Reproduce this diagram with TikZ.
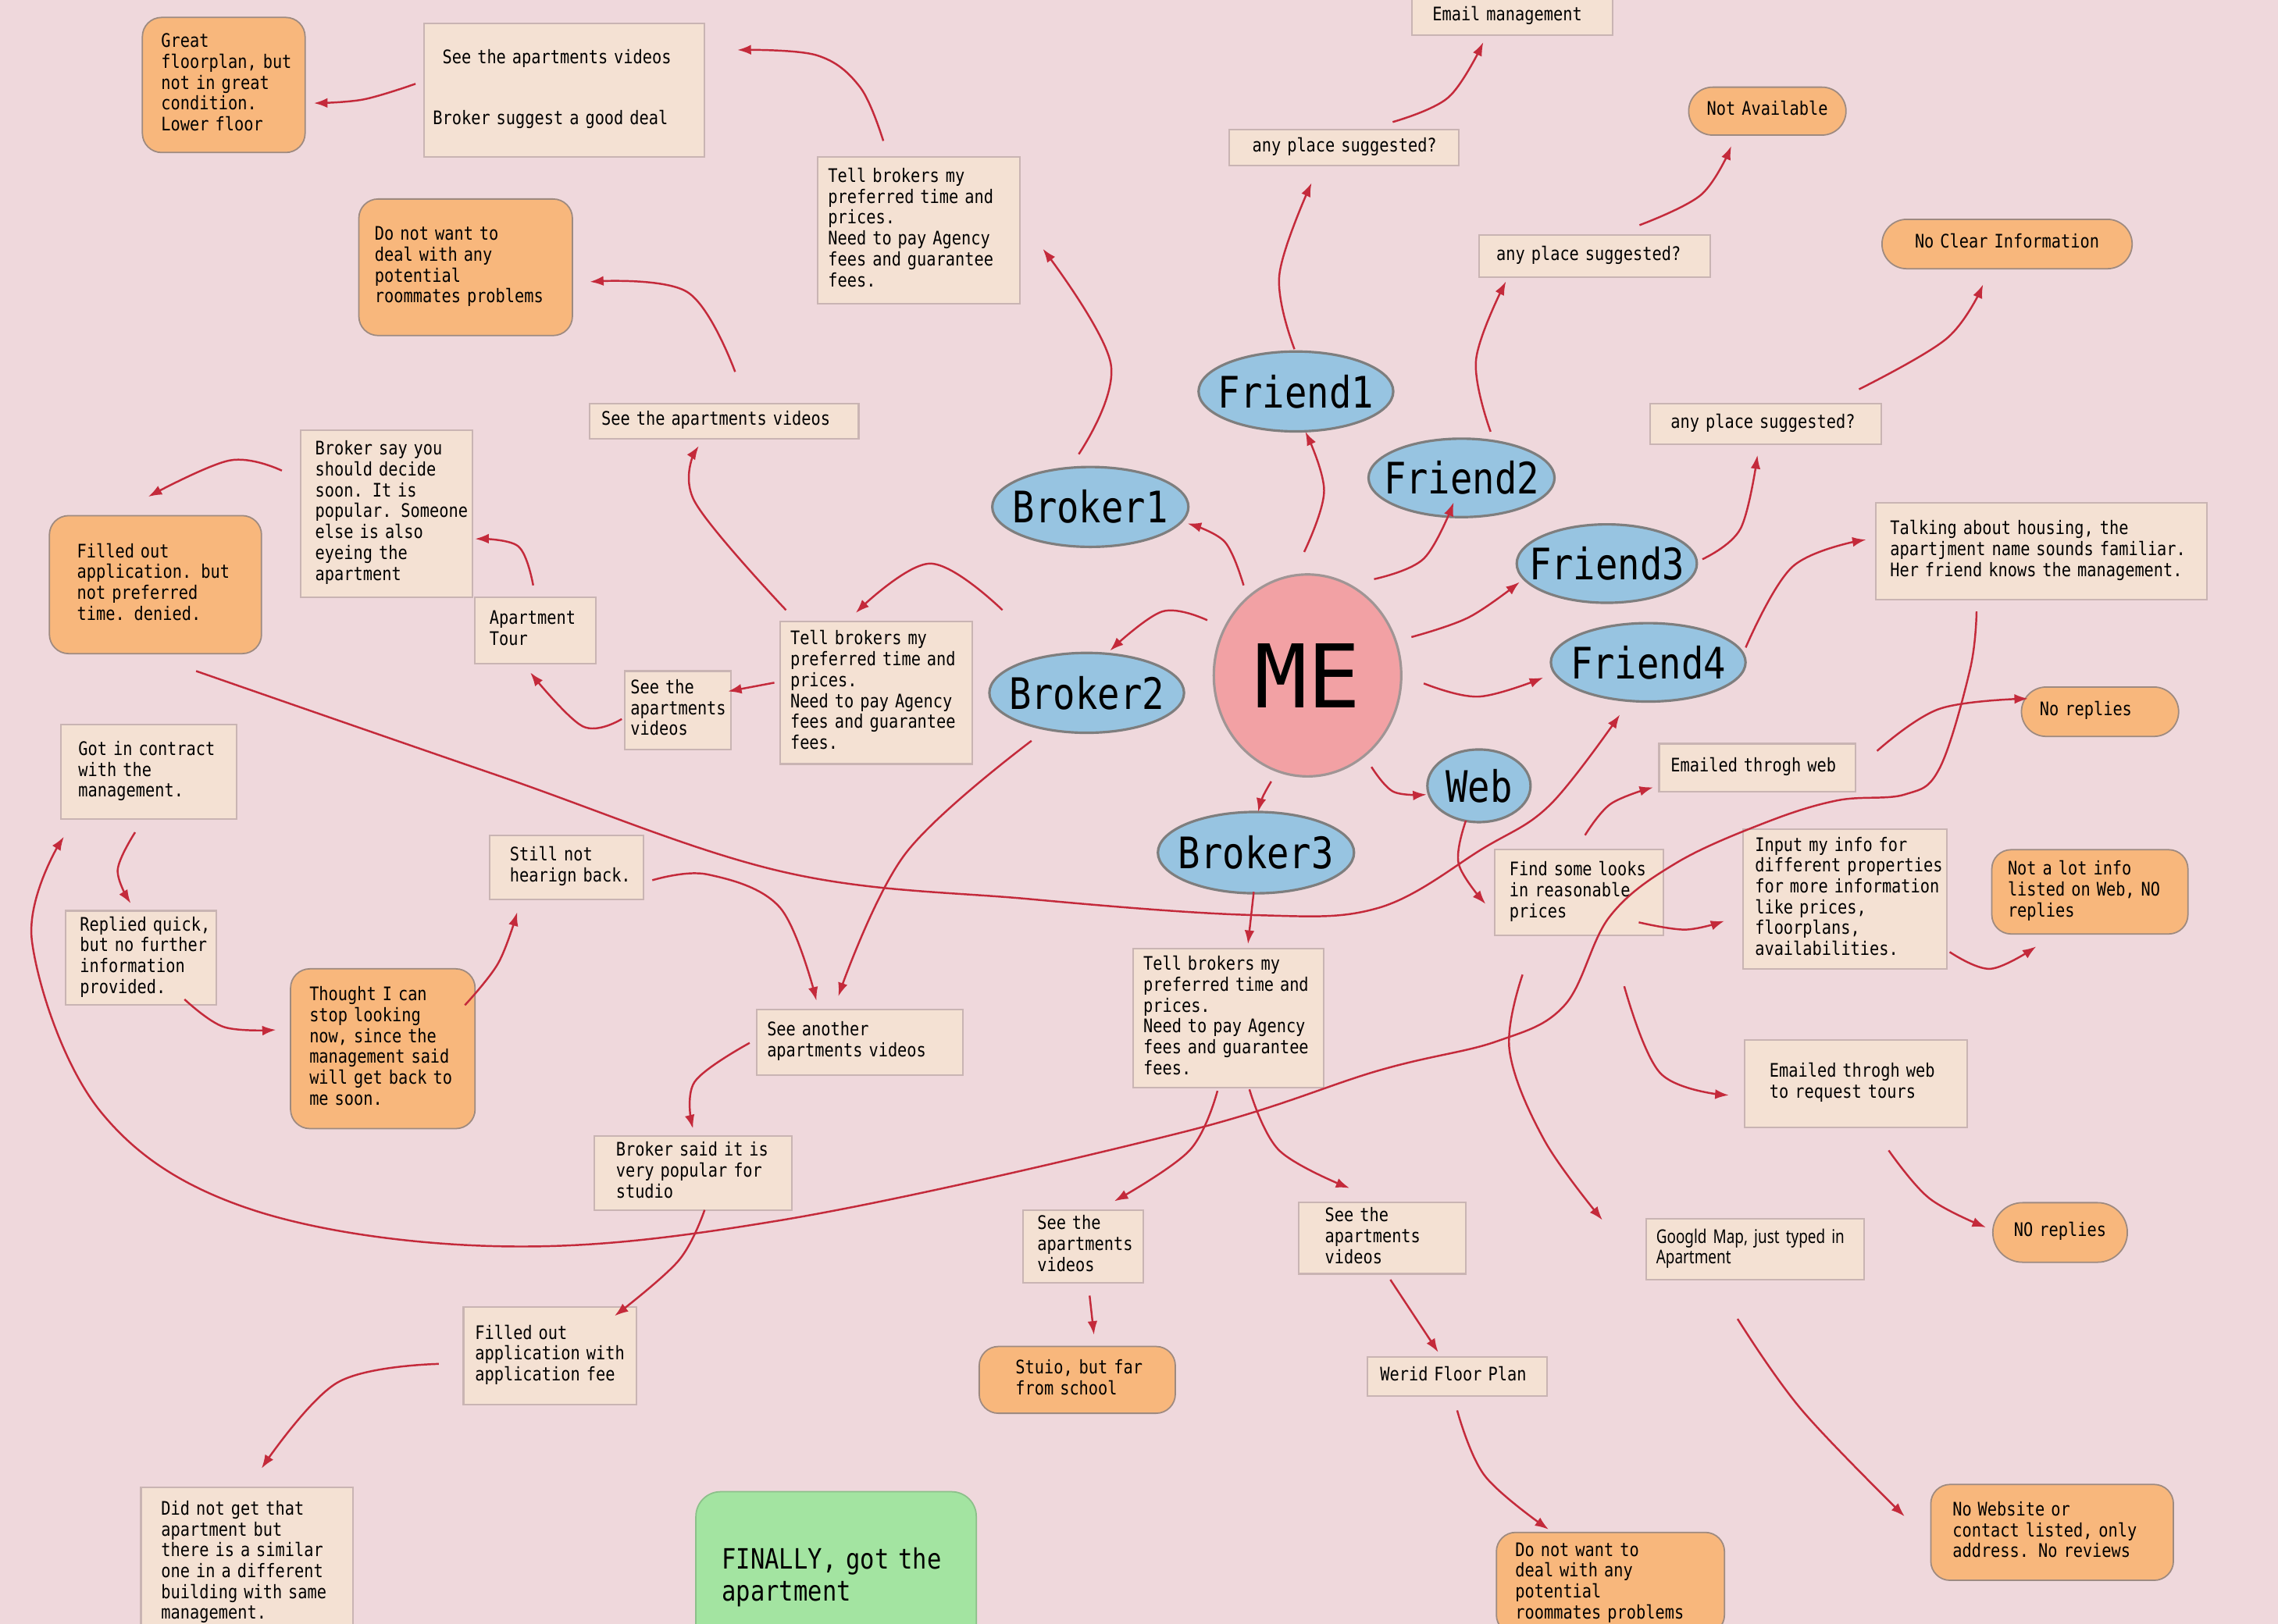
\documentclass[tikz,border=0pt]{standalone}
\usepackage{fontspec}
\newfontfamily\monoc{DejaVu Sans Mono}[FakeStretch=0.85]
\newfontfamily\monon{DejaVu Sans Mono}
\newfontfamily\sansc{Noto Sans}[FakeStretch=0.78]
\usetikzlibrary{arrows.meta,shapes.geometric,shapes.misc}
\definecolor{bgc}{HTML}{EFD8DC}
\definecolor{boxfill}{HTML}{F4E1D3}
\definecolor{boxline}{HTML}{C9B4B3}
\definecolor{orfill}{HTML}{F8B77C}
\definecolor{orline}{HTML}{9E8A80}
\definecolor{bluefill}{HTML}{97C4E1}
\definecolor{ellline}{HTML}{7E7E7E}
\definecolor{mefill}{HTML}{F2A1A4}
\definecolor{meline}{HTML}{A09595}
\definecolor{grfill}{HTML}{A3E4A1}
\definecolor{grline}{HTML}{8CC08A}
\definecolor{arrred}{HTML}{C42A3B}
\newcommand\lns[1]{\begin{tabular}{@{}l@{}}#1\end{tabular}}
\newcommand\bnode[8]{%
 \pgfmathsetlengthmacro\qbw{(#5-#3)*0.0186cm}%
 \pgfmathsetlengthmacro\qbh{(#6-#4)*0.0186cm}%
 \pgfmathsetlengthmacro\qbp{#7*0.0186cm}%
 \pgfmathsetlengthmacro\qbt{(#5-#3-2*#7)*0.0186cm}%
 \node[#2, minimum width=\qbw, minimum height=\qbh, inner xsep=\qbp, text width=\qbt] (#1) at ({(#3+#5)/2},{(#4+#6)/2}) {\lns{#8}};}
\newcommand\enode[7]{%
 \pgfmathsetlengthmacro\qbw{2*#4*0.0186cm}%
 \pgfmathsetlengthmacro\qbh{2*#5*0.0186cm}%
 \node[#7, minimum width=\qbw, minimum height=\qbh] (#1) at (#2,#3) {\makebox[0pt]{#6}};}
\newcommand\cnx[4]{%
 \coordinate (#1s) at (#2);
 \coordinate (#1e) at (#4);
 \draw[arr] plot[smooth,tension=0.6] coordinates {(#1s) #3 (#1e)};}
\tikzset{
 basetxt/.style={font=\monoc\fontsize{6.8}{7.6}\selectfont, inner ysep=0pt, align=left},
 bx/.style={basetxt, rectangle, draw=boxline, fill=boxfill, line width=0.6pt},
 gbx/.style={bx, font=\sansc\fontsize{6.9}{7.4}\selectfont},
 ob/.style={basetxt, rectangle, rounded corners=7pt, draw=orline, fill=orfill, line width=0.5pt},
 pill/.style={basetxt, rounded rectangle, draw=orline, fill=orfill, line width=0.5pt, align=center},
 pillL/.style={pill, align=left},
 gb/.style={basetxt, rectangle, rounded corners=9pt, draw=grline, fill=grfill, line width=0.5pt, font=\monoc\fontsize{10.2}{11.6}\selectfont},
 ell/.style={ellipse, inner sep=0pt, draw=ellline, fill=bluefill, line width=0.9pt, font=\monoc\fontsize{15.8}{18}\selectfont},
 meell/.style={ellipse, inner sep=0pt, draw=meline, fill=mefill, line width=0.9pt, font=\monon\fontsize{32}{36}\selectfont},
 arr/.style={draw=arrred, line width=0.7pt, -{Latex[length=5pt,width=3.6pt]}}
}
\begin{document}
\begin{tikzpicture}[x=0.0186cm,y=-0.0186cm]
\useasboundingbox (0,0) rectangle (1568,1118);
\clip (0,0) rectangle (1568,1118);
\fill[bgc] (0,0) rectangle (1568,1118);

% ---------- boxes ----------
\bnode{great}{ob}{98}{12}{210}{105}{13}{Great\\floorplan, but\\not in great\\condition.\\Lower floor}
\bnode{seebk}{bx}{292}{16}{485}{108}{6}{\hphantom{x}See the apartments videos\\[14.6pt]Broker suggest a good deal}
\bnode{tella}{bx}{563}{108}{702}{209}{7}{Tell brokers my\\preferred time and\\prices.\\Need to pay Agency\\fees and guarantee\\fees.}
\bnode{email}{bx}{972}{-1}{1110}{24}{14}{Email management}
\bnode{anya}{bx}{846}{89}{1004}{114}{16}{any place suggested?}
\bnode{notav}{pill}{1164}{60}{1269}{93}{6}{Not Available}
\bnode{anyb}{bx}{1018}{162}{1177}{191}{12}{any place suggested?}
\bnode{noclear}{pill}{1297}{151}{1466}{185}{8}{No Clear Information}
\bnode{dnwa}{ob}{247}{137}{394}{231}{11}{Do not want to\\deal with any\\potential\\roommates problems}
\bnode{seeva}{bx}{406}{278}{591}{302}{8}{See the apartments videos}
\bnode{anyc}{bx}{1136}{278}{1295}{306}{14}{any place suggested?}
\bnode{talk}{bx}{1291}{346}{1519}{413}{10}{Talking about housing, the\\apartjment name sounds familiar.\\Her friend knows the management.}
\bnode{bsay}{bx}{207}{296}{325}{411}{10}{Broker say you\\should decide\\soon. It is\\popular. Someone\\else is also\\eyeing the\\apartment}
\bnode{filleda}{ob}{34}{355}{180}{450}{19}{Filled out\\application. but\\not preferred\\time. denied.}
\bnode{tour}{bx}{327}{411}{410}{457}{10}{Apartment\\Tour}
\bnode{tellb}{bx}{537}{428}{669}{526}{7}{Tell brokers my\\preferred time and\\prices.\\Need to pay Agency\\fees and guarantee\\fees.}
\bnode{seevb}{bx}{430}{462}{503}{516}{4}{See the\\apartments\\videos}
\bnode{norepa}{pillL}{1393}{473}{1498}{507}{11}{No replies}
\bnode{emaila}{bx}{1142}{512}{1277}{545}{8}{Emailed throgh web}
\bnode{gotin}{bx}{42}{499}{163}{564}{12}{Got in contract\\with the\\management.}
\bnode{still}{bx}{337}{575}{443}{619}{14}{Still not\\hearign back.}
\bnode{find}{bx}{1029}{585}{1145}{644}{10}{Find some looks\\in reasonable\\prices}
\bnode{input}{bx}{1200}{571}{1340}{667}{8}{Input my info for\\different properties\\for more information\\like prices,\\floorplans,\\availabilities.}
\bnode{notlot}{ob}{1371}{585}{1506}{643}{11}{Not a lot info\\listed on Web, NO\\replies}
\bnode{replied}{bx}{45}{627}{149}{692}{10}{Replied quick,\\but no further\\information\\provided.}
\bnode{thought}{ob}{200}{667}{327}{777}{13}{Thought I can\\stop looking\\now, since the\\management said\\will get back to\\me soon.}
\bnode{seeano}{bx}{521}{695}{663}{740}{7}{See another\\apartments videos}
\bnode{tellc}{bx}{780}{653}{911}{749}{7}{Tell brokers my\\preferred time and\\prices.\\Need to pay Agency\\fees and guarantee\\fees.}
\bnode{tours}{bx}{1201}{716}{1354}{776}{17}{Emailed throgh web\\to request tours}
\bnode{bsaid}{bx}{409}{782}{545}{833}{15}{Broker said it is\\very popular for\\studio}
\bnode{seevc}{bx}{704}{833}{787}{883}{10}{See the\\apartments\\videos}
\bnode{seevd}{bx}{894}{828}{1009}{877}{18}{See the\\apartments\\videos}
\bnode{norepb}{pill}{1373}{828}{1463}{869}{6}{NO replies}
\bnode{gmap}{gbx}{1133}{839}{1283}{881}{7}{Googld Map, just typed in\\Apartment}
\bnode{filledb}{bx}{319}{900}{438}{967}{8}{Filled out\\application with\\application fee}
\bnode{stuio}{ob}{674}{927}{809}{973}{25}{Stuio, but far\\from school}
\bnode{werid}{bx}{941}{934}{1065}{961}{9}{Werid Floor Plan}
\bnode{dnwb}{ob}{1030}{1055}{1187}{1125}{13}{Do not want to\\deal with any\\potential\\roommates problems}
\bnode{nows}{ob}{1329}{1022}{1496}{1088}{15}{No Website or\\contact listed, only\\address. No reviews}
\bnode{didnot}{bx}{97}{1024}{243}{1128}{14}{Did not get that\\apartment but\\there is a similar\\one in a different\\building with same\\management.}
\bnode{final}{gb}{479}{1027}{672}{1147}{18}{FINALLY, got the\\apartment}

% ---------- ellipses ----------
\enode{fa}{892}{269.5}{67}{27.5}{Friend1}{ell}
\enode{fb}{1006}{329}{64}{27}{Friend2}{ell}
\enode{ba}{750.5}{349}{67.5}{27.5}{Broker1}{ell}
\enode{fc}{1106}{388}{62}{27}{Friend3}{ell}
\enode{bb}{748}{477}{67}{27.5}{Broker2}{ell}
\enode{fd}{1134.5}{456}{67}{27}{Friend4}{ell}
\enode{web}{1018}{541}{35.5}{25}{Web}{ell}
\enode{bc}{864.5}{587}{67.5}{28}{Broker3}{ell}
\enode{me}{900}{465}{64.5}{69.5}{ME}{meell}

% ---------- connectors ----------
\cnx{a1}{286,57.7}{(250,68.5)}{216,71}
\cnx{a2}{608,97}{(592,60) (562,38)}{507.5,34.4}
\cnx{a3}{742.5,312.7}{(764.6,250.6)}{717.8,171.3}
\cnx{a4}{856,403}{(843,373)}{817.4,360.4}
\cnx{a5}{897.7,380}{(911.4,338)}{898.5,297.2}
\cnx{a6}{891,240.4}{(880.6,189.4)}{902.8,125.9}
\cnx{a7}{958.6,84}{(997,67)}{1021,29}
\cnx{a8}{945.8,398.7}{(980,384.6)}{1000.6,345.8}
\cnx{a9}{1026,297.2}{(1016,247.7)}{1036.6,193.7}
\cnx{a10}{1128.5,155}{(1171,134)}{1191.7,100.5}
\cnx{a11}{971.5,438.6}{(1011,425)}{1046,400.7}
\cnx{a12}{1171.8,385}{(1198,364)}{1209.7,313.3}
\cnx{a13}{1279.6,268}{(1340,233)}{1365,195.8}
\cnx{a14}{980,470.5}{(1017.8,479.6)}{1062.3,466.5}
\cnx{a15}{1201.6,445.8}{(1234,390)}{1284.5,371.5}
\cnx{a16}{1360.5,421}{(1356,461) (1335,529) (1311,547) (1265,551) (1216,566) (1154,594) (1108,631) (1077,692) (1030,717) (949,737) (812,780) (538,840) (343,858) (171,832) (69,765) (22,648)}{44,576}
\cnx{a17}{135,462}{(343,534) (538,600) (709,619) (863,630) (949,625) (1021,584) (1067,554)}{1115,492}
\cnx{a18}{1292,517}{(1335,488)}{1396,481}
\cnx{a19}{1091,575}{(1108.6,553.5)}{1138,542}
\cnx{a20}{1009,565}{(1004,594.6)}{1022.6,622.4}
\cnx{a21}{1128,635}{(1160,640)}{1187,634}
\cnx{a22}{1342,655.4}{(1370,667)}{1401.6,651.6}
\cnx{a23}{1118,679}{(1143,739)}{1190,754}
\cnx{a24}{1300,792}{(1328,825)}{1367,845}
\cnx{a25}{1048,671}{(1039,723) (1063,785)}{1103,840}
\cnx{a26}{1196,908}{(1240,970.5)}{1311,1044}
\cnx{a27}{1003,971}{(1022,1016)}{1066,1053}
\cnx{a28}{957,881}{}{990,931}
\cnx{a29}{750,892}{}{753,919}
\cnx{a30}{838,751}{(818.8,792)}{767,827}
\cnx{a31}{860,750}{(880.5,792)}{929,818}
\cnx{a32}{863,614}{}{859,650}
\cnx{a33}{875,538}{(869,549)}{866,559}
\cnx{a34}{944,528}{(959,545)}{982,547}
\cnx{a35}{831,427}{(800,421)}{764,448}
\cnx{a36}{710,510}{(623,588)}{577,686}
\cnx{a37}{449,606}{(487,602) (537,625)}{562,689}
\cnx{a38}{516,718}{(478,745)}{477,777}
\cnx{a39}{485,833}{(467,868)}{423,906}
\cnx{a40}{302,939}{(232,952)}{180,1011}
\cnx{a41}{93,573}{(81,599)}{90,622}
\cnx{a42}{127,688}{(154,707)}{190,709}
\cnx{a43}{320,692}{(343,663)}{356,628}
\cnx{a44}{541,420}{(478,345)}{481,307}
\cnx{a45}{690,420}{(640,388)}{589,422}
\cnx{a46}{533,470}{}{501,476}
\cnx{a47}{428,495}{(401,500)}{365,463}
\cnx{a48}{367,403}{(356.6,376)}{327,371}
\cnx{a49}{194,324}{(158,317)}{102,342}
\cnx{a50}{506,256}{(473,201)}{406,194}
\end{tikzpicture}
\end{document}
